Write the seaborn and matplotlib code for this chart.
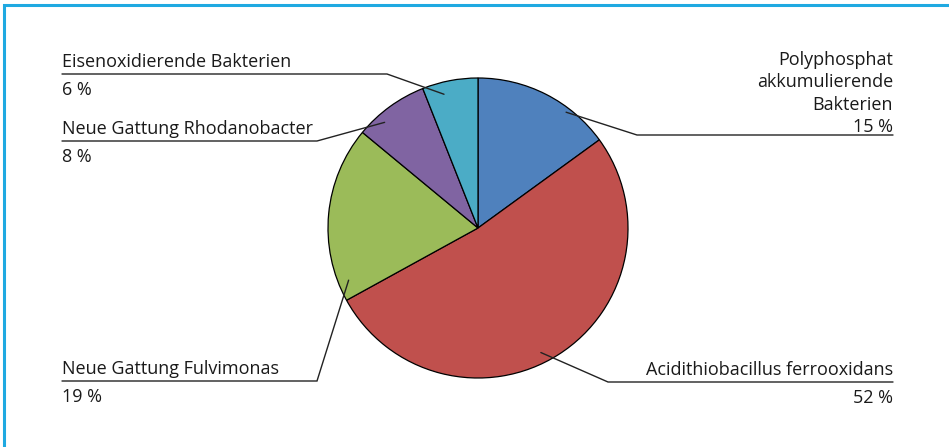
import matplotlib
matplotlib.use("Agg")
import matplotlib.pyplot as plt
import seaborn as sns
import numpy as np

categories = ["Polyphosphat\nakkumulierende\nBakterien",
              "Acidithiobacillus ferrooxidans",
              "Neue Gattung Fulvimonas",
              "Neue Gattung Rhodanobacter",
              "Eisenoxidierende Bakterien"]
shares = [15, 52, 19, 8, 6]
colors = ["#4F81BD", "#C0504D", "#9BBB59", "#8064A2", "#4BACC6"]

sns.set_theme(style="white")
plt.rcParams['font.family'] = ['Open Sans', 'DejaVu Sans']

W, H = 949, 447
fig = plt.figure(figsize=(W / 100, H / 100), dpi=100)
fig.patch.set_facecolor("white")

cx, cy, R = 478, 228, 150
ax = fig.add_axes([(cx - R) / W, 1 - (cy + R) / H, 2 * R / W, 2 * R / H])
wedges, _ = ax.pie(shares, colors=sns.color_palette(colors), startangle=90,
                   counterclock=False, radius=1,
                   wedgeprops=dict(edgecolor="black", linewidth=0.9))
ax.set_xlim(-1, 1)
ax.set_ylim(-1, 1)
ax.set_aspect("equal")

ov = fig.add_axes([0, 0, 1, 1], facecolor="none")
ov.set_xlim(0, W)
ov.set_ylim(H, 0)
ov.axis("off")

# frame lines (left and top)
ov.plot([4.5, 4.5, W + 5], [H + 5, 5, 5], color="#1FA9E1", lw=2.2,
        solid_joinstyle="miter", clip_on=False)

# label layout: (anchor fraction in wedge, anchor radius, elbow x, line y, line x end, side)
layout = [
    (0.69, 0.97, 637, 135, 893, "right"),
    (0.53, 0.93, 608, 382, 893, "right"),
    (0.10, 0.93, 317, 381, 62, "left"),
    (0.31, 0.94, 317, 141, 62, "left"),
    (0.34, 0.92, 387, 74, 62, "left"),
]

def pie_to_px(x, y):
    disp = ax.transData.transform((x, y))
    return ov.transData.inverted().transform(disp)

fs = 13
tc = "#1a1a1a"
step = 22.3
for w, cat, val, (fr, rr, ex, ly, lx, side) in zip(wedges, categories, shares, layout):
    t1, t2 = w.theta1, w.theta2
    ang = np.deg2rad(t2 - fr * (t2 - t1))
    px, py = pie_to_px(rr * np.cos(ang), rr * np.sin(ang))
    ov.plot([px, ex, lx], [py, ly, ly], color="#222222", lw=1.0,
            solid_joinstyle="miter")
    ha = "right" if side == "right" else "left"
    if "\n" in cat:
        lines = cat.split("\n") + [f"{val} %"]
        base = ly - 3
        for i, line in enumerate(reversed(lines)):
            ov.text(lx, base - i * step, line, ha=ha, va="baseline",
                    fontsize=fs, color=tc)
    else:
        ov.text(lx, ly - 7, cat, ha=ha, va="baseline", fontsize=fs, color=tc)
        ov.text(lx, ly + 21, f"{val} %", ha=ha, va="baseline", fontsize=fs, color=tc)

fig.savefig("out.png", dpi=100, facecolor="white")
